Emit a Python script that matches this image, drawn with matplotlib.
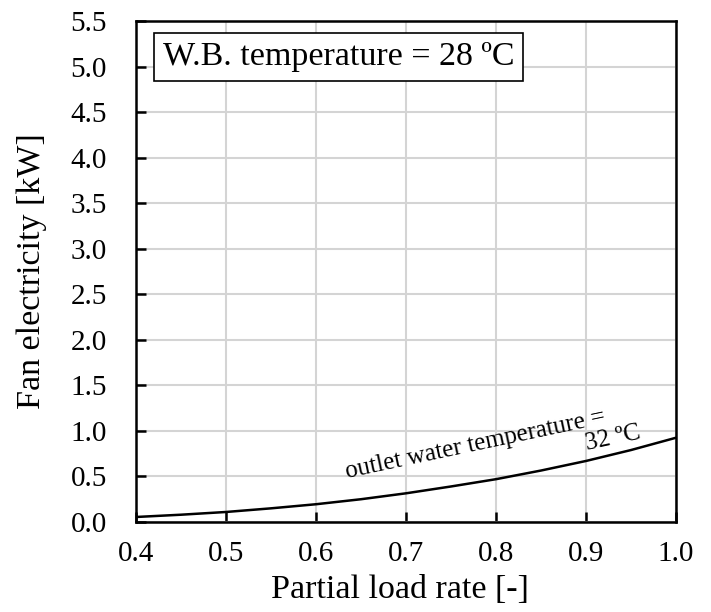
import matplotlib
matplotlib.use("Agg")
import matplotlib.pyplot as plt

load_rate = [0.40, 0.45, 0.50, 0.55, 0.60, 0.65, 0.70, 0.75, 0.80, 0.85, 0.90, 0.95, 1.00]
fan_kw = [0.055, 0.080, 0.110, 0.150, 0.195, 0.250, 0.315, 0.390, 0.470, 0.565, 0.670, 0.790, 0.925]
xticks = [0.4, 0.5, 0.6, 0.7, 0.8, 0.9, 1.0]
yticks = [0.0, 0.5, 1.0, 1.5, 2.0, 2.5, 3.0, 3.5, 4.0, 4.5, 5.0, 5.5]

plt.rcParams['font.family'] = ['Liberation Serif', 'DejaVu Serif']
W, H = 711, 612
fig = plt.figure(figsize=(W/100, H/100), dpi=100)
L, R, T, B = 136, 676, 21, 522
ax = fig.add_axes([L/W, 1-B/H, (R-L)/W, (B-T)/H])

ax.plot(load_rate, fan_kw, color='black', lw=1.8, zorder=3)
ax.set_xlim(0.4, 1.0)
ax.set_ylim(0.0, 5.5)
ax.set_xticks(xticks)
ax.set_yticks(yticks)
ax.set_xticklabels([f"{v:.1f}" for v in xticks])
ax.set_yticklabels([f"{v:.1f}" for v in yticks])
ax.grid(True, color='#d4d4d4', lw=1.5, zorder=0)
ax.set_axisbelow(True)
ax.tick_params(direction='in', length=7, width=1.8, labelsize=21)
ax.tick_params(axis='y', pad=21)
ax.tick_params(axis='x', pad=14)
for s in ax.spines.values():
    s.set_linewidth(1.8)
    s.set_color('black')

fig.text(400/W, 1-590/H, 'Partial load rate [-]', fontsize=24.5, ha='center', va='center')
fig.text(32/W, 1-271/H, 'Fan electricity [kW]', fontsize=24.5, ha='center', va='center',
         rotation=90)

ax.text((163-L)/(R-L), (B-57)/(B-T), 'W.B. temperature = 28 ºC', transform=ax.transAxes,
        fontsize=24.5, va='center', ha='left',
        bbox=dict(boxstyle='square,pad=0.26', fc='white', ec='black', lw=1.2))
ax.text(0.777, 0.845, 'outlet water temperature =', fontsize=18, rotation=12,
        ha='center', va='center', rotation_mode='anchor')
ax.text(0.930, 0.922, '32 ºC', fontsize=18, rotation=12, ha='center', va='center',
        rotation_mode='anchor')

fig.savefig('out.png', dpi=100)
